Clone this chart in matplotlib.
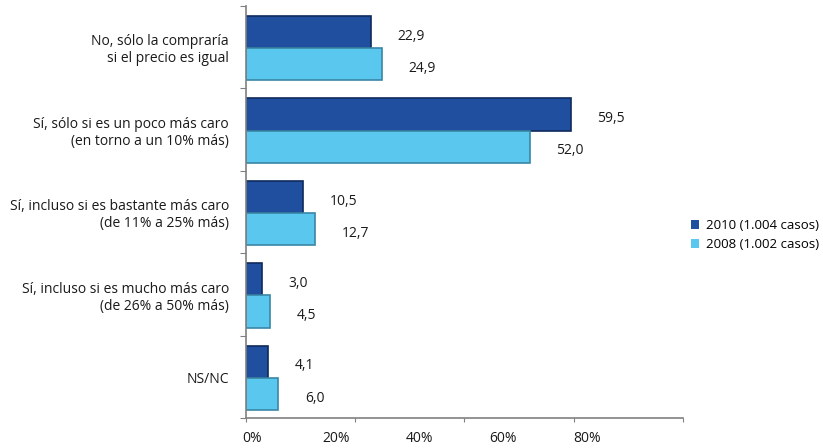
import matplotlib
matplotlib.use('Agg')
import matplotlib.pyplot as plt
from matplotlib.patches import Patch
import numpy as np

plt.rcParams['font.family'] = ['Open Sans', 'DejaVu Sans']

categories = ['No, sólo la compraría\nsi el precio es igual',
              'Sí, sólo si es un poco más caro\n(en torno a un 10% más)',
              'Sí, incluso si es bastante más caro\n(de 11% a 25% más)',
              'Sí, incluso si es mucho más caro\n(de 26% a 50% más)',
              'NS/NC']
vals_2010 = [22.9, 59.5, 10.5, 3.0, 4.1]
vals_2008 = [24.9, 52.0, 12.7, 4.5, 6.0]
series_names = ['2010 (1.004 casos)', '2008 (1.002 casos)']
xtick_labels = ['0%', '20%', '40%', '60%', '80%']

dark = '#1f4f9e'
light = '#5ac8ee'
dark_edge = '#0e2a5c'
light_edge = '#3a86a6'
txt = '#1a1a1a'

fig = plt.figure(figsize=(8.23, 4.48), dpi=100)
ax = fig.add_axes([0.2985, 0.0663, 0.5314, 0.9203])

y = np.arange(len(categories))
h = 0.39
ax.barh(y - 0.185, vals_2010, height=h, color=dark, edgecolor=dark_edge, linewidth=1.2)
ax.barh(y + 0.205, vals_2008, height=h, color=light, edgecolor=light_edge, linewidth=1.2)

# value labels, comma decimal
for yy, v in zip(y - 0.185, vals_2010):
    ax.annotate(f'{v:.1f}'.replace('.', ','), (v, yy), xytext=(19, -3),
                textcoords='offset points', va='center', ha='left',
                fontsize=10, color=txt)
for yy, v in zip(y + 0.205, vals_2008):
    ax.annotate(f'{v:.1f}'.replace('.', ','), (v, yy), xytext=(19, -3),
                textcoords='offset points', va='center', ha='left',
                fontsize=10, color=txt)

ax.set_xlim(0, 80)
ax.set_ylim(4.5, -0.5)

# tick marks at band edges / every 20 units, labels set as minor ticks
ax.set_yticks(np.arange(-0.5, 5, 1))
ax.set_yticklabels([])
ax.set_yticks(y, minor=True)
ax.set_yticklabels(categories, minor=True, fontsize=10, color=txt)
ax.tick_params(axis='y', which='minor', length=0, pad=12)
ax.tick_params(axis='y', which='major', length=4, color='#808080')

ax.set_xticks(np.arange(0, 81, 20))
ax.set_xticklabels([])
ax.set_xticks(1.2 + 15.3 * np.arange(len(xtick_labels)), minor=True)
ax.set_xticklabels(xtick_labels, minor=True, fontsize=10, color=txt)
ax.tick_params(axis='x', which='minor', length=0, pad=9)
ax.tick_params(axis='x', which='major', length=3, color='#808080')

for s in ['top', 'right']:
    ax.spines[s].set_visible(False)
for s in ['left', 'bottom']:
    ax.spines[s].set_color('#808080')
    ax.spines[s].set_linewidth(1.2)

handles = [Patch(facecolor=dark), Patch(facecolor=light)]
fig.legend(handles, series_names, loc='center left', bbox_to_anchor=(0.832, 0.475),
           frameon=False, fontsize=9.5, handlelength=0.6, handleheight=0.6,
           handletextpad=0.5, labelspacing=0.45, borderpad=0)

fig.savefig('out.png', dpi=100)
